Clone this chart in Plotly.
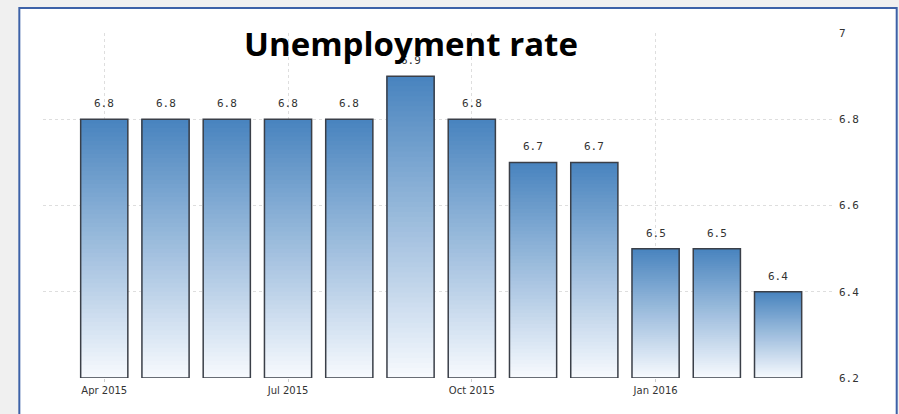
import plotly.graph_objects as go

months = ["Apr 2015", "May 2015", "Jun 2015", "Jul 2015", "Aug 2015", "Sep 2015",
          "Oct 2015", "Nov 2015", "Dec 2015", "Jan 2016", "Feb 2016", "Mar 2016"]
rate = [6.8, 6.8, 6.8, 6.8, 6.8, 6.9, 6.8, 6.7, 6.7, 6.5, 6.5, 6.4]
x_ticks = ["Apr 2015", "Jul 2015", "Oct 2015", "Jan 2016"]
y_ticks = [6.2, 6.4, 6.6, 6.8, 7]
y_min, y_max = 6.2, 7.0
title = "Unemployment rate"

top_rgb = (72, 131, 190)
bot_rgb = (247, 250, 254)
N = 60

fig = go.Figure()
for k in range(N):
    t = (k + 0.5) / N  # 0 bottom -> 1 top
    c = tuple(round(bot_rgb[i] + (top_rgb[i] - bot_rgb[i]) * t) for i in range(3))
    fig.add_trace(go.Bar(
        x=months,
        base=[y_min + (v - y_min) * k / N for v in rate],
        y=[(v - y_min) * (N - k) / N for v in rate],
        marker=dict(color="rgb(%d,%d,%d)" % c, line=dict(width=0)),
        width=0.77, hoverinfo="skip", showlegend=False,
    ))
# outline
fig.add_trace(go.Bar(
    x=months, base=[y_min] * len(rate), y=[v - y_min for v in rate],
    marker=dict(color="rgba(0,0,0,0)", line=dict(color="#3a3f48", width=1.5)),
    width=0.77, showlegend=False,
))

annotations = [dict(x=m, y=v, text="%.1f" % v, showarrow=False,
                    xanchor="center", yanchor="bottom", yshift=7,
                    font=dict(family="DejaVu Sans Mono", size=11, color="#333333"))
               for m, v in zip(months, rate)]
annotations.append(dict(text="<b>" + title + "</b>", xref="paper", yref="paper",
                        x=0.466, y=0.971, xanchor="center", yanchor="middle",
                        showarrow=False,
                        font=dict(family="Open Sans", size=33, color="#000000")))

fig.update_layout(
    barmode="overlay",
    width=899, height=414,
    margin=dict(l=43, r=67, t=33, b=36),
    paper_bgcolor="#f0f0f0",
    plot_bgcolor="rgba(0,0,0,0)",
    shapes=[dict(type="rect", xref="paper", yref="paper",
                 x0=-0.030, x1=1.082, y0=-0.2, y1=1.0725,
                 fillcolor="white", line=dict(color="#3d62a8", width=2), layer="below")],
    annotations=annotations,
)
fig.update_xaxes(
    type="category", range=[-1.0, len(months) - 0.12],
    tickmode="array", tickvals=x_ticks, ticktext=x_ticks,
    showgrid=True, gridcolor="#dedede", griddash="dot", gridwidth=1,
    ticks="outside", ticklen=3, tickcolor="#cccccc",
    tickfont=dict(family="DejaVu Sans", size=10, color="#333333"),
    showline=False, zeroline=False,
)
fig.update_yaxes(
    range=[y_min, y_max], side="right",
    tickmode="array", tickvals=y_ticks, ticktext=[str(v) for v in y_ticks],
    showgrid=True, gridcolor="#dedede", griddash="dot", gridwidth=1,
    tickfont=dict(family="DejaVu Sans Mono", size=11, color="#333333"),
    ticks="", zeroline=False, showline=False, ticklabelstandoff=6,
)

fig.write_html("out.html")
